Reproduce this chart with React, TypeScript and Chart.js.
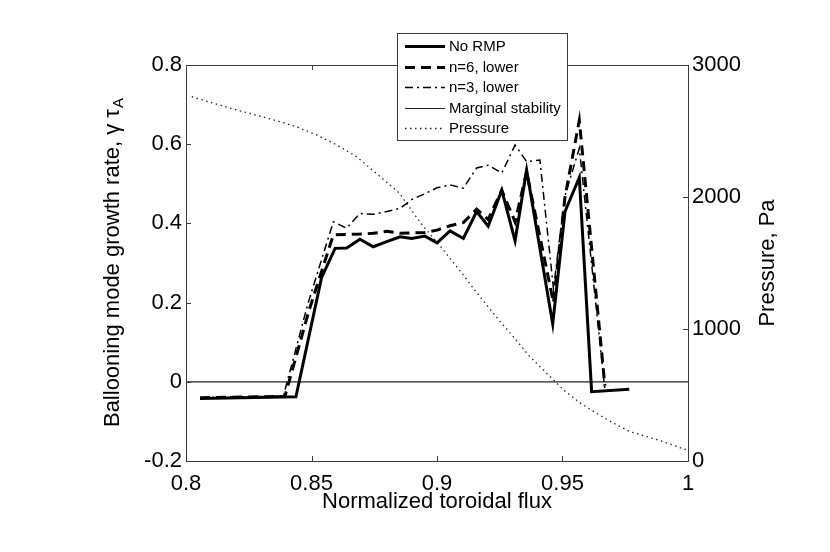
import { useEffect, useRef } from 'react';
import { Chart, registerables, type Plugin } from 'chart.js';

Chart.register(...registerables);

// Helvetica stand-in with Arial metrics, like the MATLAB export.
const FONT = '"Liberation Sans", Arial, Helvetica, sans-serif';
const INK = '#000000';
const FRAME = '#3a3a3a';

// ---- data ---------------------------------------------------------------

const NO_RMP_X = [0.8056, 0.8438, 0.854, 0.8594, 0.864, 0.8693, 0.8746, 0.88, 0.8853, 0.8899, 0.8952, 0.9, 0.9052, 0.9105, 0.9158, 0.9204, 0.9258, 0.9311, 0.9357, 0.9461, 0.951, 0.9567, 0.9616, 0.9766];
const NO_RMP_Y = [-0.042, -0.038, 0.263, 0.337, 0.338, 0.36, 0.341, 0.354, 0.366, 0.362, 0.368, 0.351, 0.381, 0.362, 0.43, 0.393, 0.484, 0.356, 0.535, 0.146, 0.43, 0.516, -0.025, -0.019];

const N6_X = [0.8056, 0.8394, 0.849, 0.8587, 0.864, 0.8693, 0.8746, 0.88, 0.8853, 0.8899, 0.8952, 0.9, 0.9052, 0.9105, 0.9158, 0.9204, 0.9258, 0.9311, 0.9357, 0.9464, 0.951, 0.9567, 0.9669];
const N6_Y = [-0.04, -0.037, 0.18, 0.371, 0.372, 0.373, 0.375, 0.38, 0.375, 0.376, 0.377, 0.383, 0.394, 0.402, 0.436, 0.41, 0.484, 0.404, 0.53, 0.2, 0.467, 0.66, -0.01];

const N3_X = [0.8056, 0.8388, 0.8487, 0.8587, 0.864, 0.8693, 0.8746, 0.88, 0.8853, 0.8899, 0.8952, 0.9, 0.9052, 0.9105, 0.9158, 0.9204, 0.9258, 0.9311, 0.9357, 0.941, 0.9464, 0.951, 0.9567, 0.9669];
const N3_Y = [-0.04, -0.036, 0.2, 0.404, 0.388, 0.425, 0.423, 0.43, 0.438, 0.46, 0.475, 0.49, 0.497, 0.489, 0.54, 0.547, 0.527, 0.598, 0.556, 0.56, 0.235, 0.47, 0.59, -0.02];

const MARGINAL_X = [0.8, 1];
const MARGINAL_Y = [0, 0];

const PRESSURE_X = [0.8023, 0.81, 0.8202, 0.83, 0.8375, 0.845, 0.852, 0.86, 0.868, 0.8773, 0.885, 0.8932, 0.9025, 0.91, 0.9171, 0.925, 0.9304, 0.937, 0.9437, 0.9503, 0.957, 0.9636, 0.97, 0.9769, 0.9835, 0.9902, 0.9995];
const PRESSURE_Y = [2760, 2715, 2659, 2610, 2570, 2525, 2470, 2395, 2305, 2154, 2030, 1810, 1600, 1420, 1245, 1060, 942, 790, 665, 540, 440, 361, 290, 222, 185, 146, 83];

const X_TITLE = 'Normalized toroidal flux';
const Y_TITLE = 'Ballooning mode growth rate, γ τ';
const Y_TITLE_SUB = 'A';
const Y1_TITLE = 'Pressure, Pa';

// ---- helpers ---------------------------------------------------------------

function zip(xs: number[], ys: number[]) {
  return xs.map((x, i) => ({ x, y: ys[i] }));
}

// Strip float noise from generated tick values (0.6000000001 -> "0.6").
function fmt(v: number | string): string {
  return String(parseFloat(Number(v).toFixed(3)));
}

// MATLAB-style frame: box on all four sides, short ticks pointing inward,
// and the three axis titles (the left one carries a subscript, which the
// built-in scale title can't do).
const framePlugin: Plugin = {
  id: 'matlabFrame',
  afterDatasetsDraw(chart) {
    const { ctx, chartArea: a, scales } = chart;
    const TL = 5;
    ctx.save();
    ctx.strokeStyle = FRAME;
    ctx.lineWidth = 1;
    ctx.setLineDash([]);
    ctx.strokeRect(a.left + 0.5, a.top + 0.5, a.right - a.left, a.bottom - a.top);

    ctx.beginPath();
    for (const t of scales.x.ticks) {
      const px = Math.round(scales.x.getPixelForValue(t.value)) + 0.5;
      ctx.moveTo(px, a.bottom);
      ctx.lineTo(px, a.bottom - TL);
      ctx.moveTo(px, a.top);
      ctx.lineTo(px, a.top + TL);
    }
    for (const t of scales.y.ticks) {
      const py = Math.round(scales.y.getPixelForValue(t.value)) + 0.5;
      ctx.moveTo(a.left, py);
      ctx.lineTo(a.left + TL, py);
    }
    for (const t of scales.y1.ticks) {
      const py = Math.round(scales.y1.getPixelForValue(t.value)) + 0.5;
      ctx.moveTo(a.right, py);
      ctx.lineTo(a.right - TL, py);
    }
    ctx.stroke();

    ctx.fillStyle = INK;
    ctx.font = `22px ${FONT}`;
    ctx.textAlign = 'center';
    ctx.textBaseline = 'alphabetic';
    ctx.fillText(X_TITLE, (a.left + a.right) / 2, 508);

    const midY = (a.top + a.bottom) / 2;

    // left title, reading bottom-to-top, with subscript A
    ctx.save();
    ctx.translate(113, midY);
    ctx.rotate(-Math.PI / 2);
    ctx.textBaseline = 'middle';
    ctx.textAlign = 'left';
    ctx.font = `22px ${FONT}`;
    const w1 = ctx.measureText(Y_TITLE).width;
    ctx.font = `15px ${FONT}`;
    const w2 = ctx.measureText(Y_TITLE_SUB).width;
    const x0 = -(w1 + w2) / 2;
    ctx.font = `22px ${FONT}`;
    ctx.fillText(Y_TITLE, x0, 0);
    ctx.font = `15px ${FONT}`;
    ctx.fillText(Y_TITLE_SUB, x0 + w1 + 1, 6);
    ctx.restore();

    // right title, also bottom-to-top
    ctx.save();
    ctx.translate(768, midY);
    ctx.rotate(-Math.PI / 2);
    ctx.textBaseline = 'middle';
    ctx.textAlign = 'center';
    ctx.font = `22px ${FONT}`;
    ctx.fillText(Y1_TITLE, 0, 0);
    ctx.restore();

    ctx.restore();
  },
};

// Boxed legend sitting over the top edge of the axes, as in the figure.
const legendPlugin: Plugin = {
  id: 'boxLegend',
  afterDraw(chart) {
    const { ctx } = chart;
    const box = { left: 397, top: 33, right: 567, bottom: 140 };
    const rowY0 = 46;
    const rowStep = 20.5;
    ctx.save();
    ctx.fillStyle = '#ffffff';
    ctx.fillRect(box.left, box.top, box.right - box.left, box.bottom - box.top);
    ctx.strokeStyle = FRAME;
    ctx.lineWidth = 1;
    ctx.setLineDash([]);
    ctx.strokeRect(box.left + 0.5, box.top + 0.5, box.right - box.left, box.bottom - box.top);

    ctx.font = `15px ${FONT}`;
    ctx.textAlign = 'left';
    ctx.textBaseline = 'middle';
    chart.data.datasets.forEach((ds, i) => {
      const d = ds as unknown as { label: string; borderColor: string; borderWidth: number; borderDash?: number[] };
      const y = Math.round(rowY0 + i * rowStep) + 0.5;
      ctx.strokeStyle = d.borderColor;
      ctx.lineWidth = d.borderWidth;
      ctx.setLineDash(d.borderDash ?? []);
      ctx.beginPath();
      ctx.moveTo(405, y);
      ctx.lineTo(445, y);
      ctx.stroke();
      ctx.fillStyle = INK;
      ctx.fillText(d.label, 449, y);
    });
    ctx.restore();
  },
};

// ---- component --------------------------------------------------------------

export default function App() {
  const canvasRef = useRef<HTMLCanvasElement | null>(null);

  useEffect(() => {
    const ctx = canvasRef.current?.getContext('2d');
    if (!ctx) return undefined;

    const line = { pointRadius: 0, pointHoverRadius: 0, tension: 0, fill: false };

    const chart = new Chart(ctx, {
      type: 'line',
      data: {
        datasets: [
          { ...line, label: 'No RMP', data: zip(NO_RMP_X, NO_RMP_Y), borderColor: INK, borderWidth: 3, yAxisID: 'y' },
          { ...line, label: 'n=6, lower', data: zip(N6_X, N6_Y), borderColor: INK, borderWidth: 3, borderDash: [10, 6], yAxisID: 'y' },
          { ...line, label: 'n=3, lower', data: zip(N3_X, N3_Y), borderColor: INK, borderWidth: 1.5, borderDash: [8, 4, 2, 4], yAxisID: 'y' },
          { ...line, label: 'Marginal stability', data: zip(MARGINAL_X, MARGINAL_Y), borderColor: '#222222', borderWidth: 1.2, yAxisID: 'y' },
          { ...line, label: 'Pressure', data: zip(PRESSURE_X, PRESSURE_Y), borderColor: '#222222', borderWidth: 1.3, borderDash: [1.5, 3.5], yAxisID: 'y1' },
        ],
      },
      options: {
        responsive: true,
        maintainAspectRatio: false,
        animation: false,
        events: [],
        layout: { padding: { top: 65, left: 0, right: 0, bottom: 0 } },
        plugins: {
          legend: { display: false },
          tooltip: { enabled: false },
        },
        scales: {
          x: {
            type: 'linear',
            min: 0.8,
            max: 1,
            grid: { display: false, drawTicks: false },
            border: { display: false },
            ticks: {
              stepSize: 0.05,
              padding: 10,
              color: INK,
              maxRotation: 0,
              font: { family: FONT, size: 22 },
              callback: (v) => fmt(v),
            },
            afterFit: (s) => { s.height = 91; },
          },
          y: {
            type: 'linear',
            position: 'left',
            min: -0.2,
            max: 0.8,
            grid: { display: false, drawTicks: false },
            border: { display: false },
            ticks: {
              stepSize: 0.2,
              padding: 4,
              color: INK,
              font: { family: FONT, size: 22 },
              callback: (v) => fmt(v),
            },
            afterFit: (s) => { s.width = 186; },
          },
          y1: {
            type: 'linear',
            position: 'right',
            min: 0,
            max: 3000,
            grid: { display: false, drawTicks: false },
            border: { display: false },
            ticks: {
              stepSize: 1000,
              padding: 4,
              color: INK,
              font: { family: FONT, size: 22 },
              callback: (v) => fmt(v),
            },
            afterFit: (s) => { s.width = 142; },
          },
        },
      },
      plugins: [framePlugin, legendPlugin],
    });

    return () => {
      chart.destroy();
    };
  }, []);

  return (
    <div style={{ position: 'fixed', left: 0, top: 0, width: 830, height: 552, background: '#ffffff' }}>
      <canvas ref={canvasRef} />
    </div>
  );
}
